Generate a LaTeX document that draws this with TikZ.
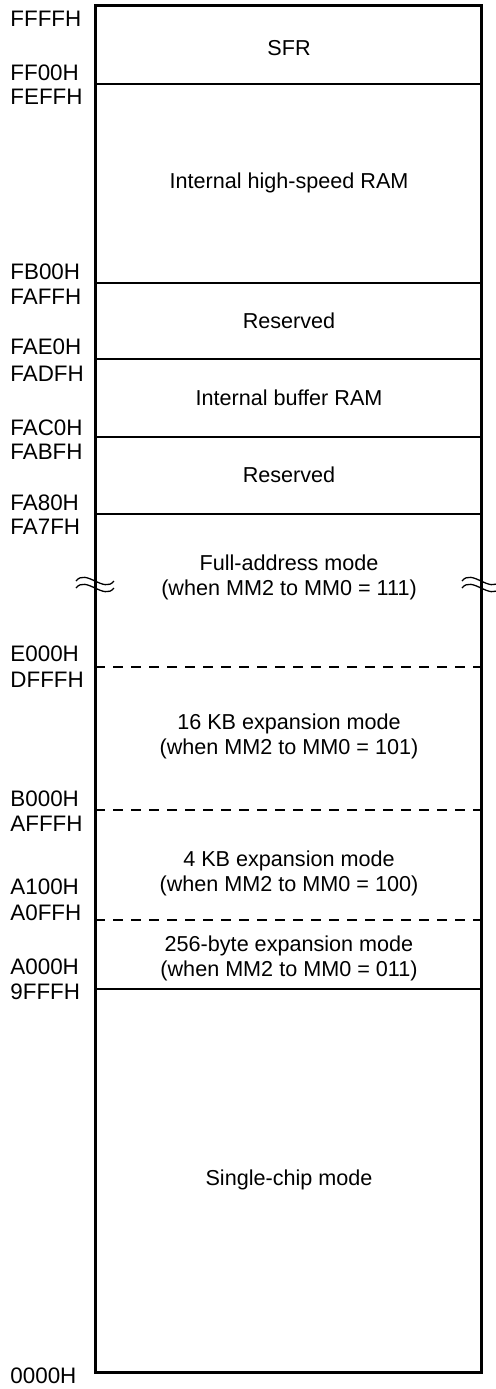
\documentclass[tikz,border=0pt]{standalone}
\usepackage{fontspec}
\setmainfont{Liberation Sans}
\begin{document}
\begin{tikzpicture}[x=0.5pt,y=-0.5pt,
    addr/.style={anchor=west,inner sep=0pt,font=\fontsize{11.2}{13}\selectfont},
    area/.style={align=center,inner sep=0pt,font=\fontsize{10.8}{12.5}\selectfont},
    sep/.style={line width=0.65pt},
    modesep/.style={line width=0.65pt,dash pattern=on 5pt off 4pt}]
\useasboundingbox (0,0) rectangle (496,1389);
% region borders
\foreach \y in {84,283,359,437,514,989}
    \draw[sep] (95,\y) -- (481,\y);
\foreach \y in {667,810,920}
    \draw[modesep] (95,\y) -- (481,\y);
\draw[line width=1.5pt] (95,5) rectangle (481,1372);
% break marks
\foreach \cx in {95,481}
    \foreach \cy in {581,588}
        \draw[line width=0.65pt] (\cx-19,\cy) .. controls (\cx-9,\cy-13) and (\cx+9,\cy+13) .. (\cx+19,\cy);
% addresses
\foreach \y/\t/\n in {19/FFFFH/ffff, 73/FF00H/ff00, 97/FEFFH/feff,
        272/FB00H/fb00, 297/FAFFH/faff, 347/FAE0H/fae0, 374/FADFH/fadf,
        428/FAC0H/fac0, 452/FABFH/fabf, 503/FA80H/fa80, 527/FA7FH/fa7f,
        654/E000H/e000, 680/DFFFH/dfff, 799/B000H/b000, 824/AFFFH/afff,
        887/A100H/a100, 913/A0FFH/a0ff, 967/A000H/a000, 992/9FFFH/9fff,
        1376/0000H/0000}
    \node[addr] (a\n) at (10,\y) {\t};
% areas
\node[area] (sfr)    at (289,48)   {SFR};
\node[area] (hsram)  at (289,183)  {Internal high-speed RAM};
\node[area] (resa)   at (289,321)  {Reserved};
\node[area] (bufram) at (289,398)  {Internal buffer RAM};
\node[area] (resb)   at (289,475)  {Reserved};
\node[area] (full)   at (289,577)  {Full-address mode\\(when MM2 to MM0 = 111)};
\node[area] (exp16)  at (289,736)  {16 KB expansion mode\\(when MM2 to MM0 = 101)};
\node[area] (exp4)   at (289,873)  {4 KB expansion mode\\(when MM2 to MM0 = 100)};
\node[area] (exp256) at (289,958)  {256-byte expansion mode\\(when MM2 to MM0 = 011)};
\node[area] (single) at (289,1180) {Single-chip mode};
\end{tikzpicture}
\end{document}
